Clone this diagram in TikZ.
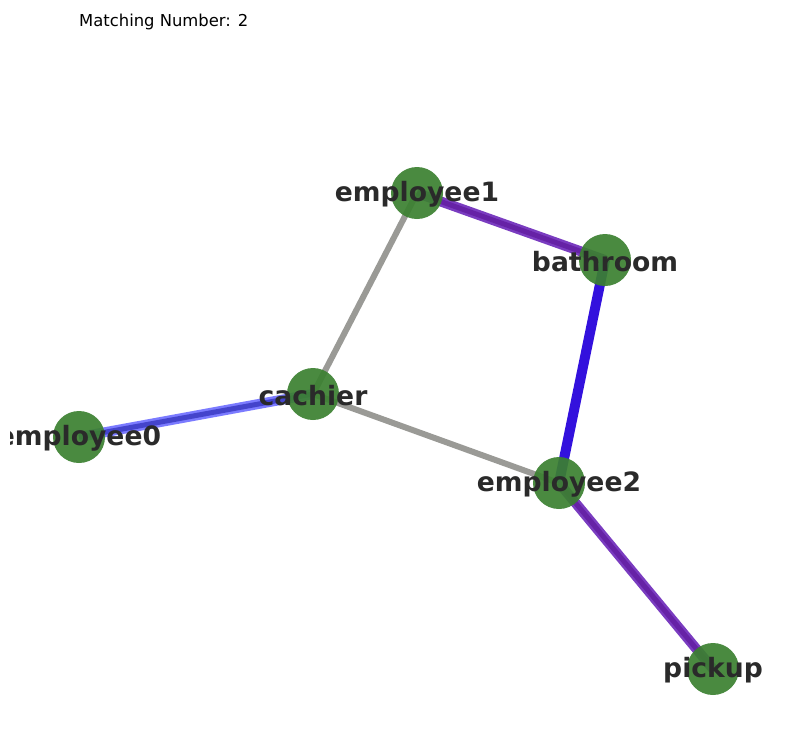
\documentclass[tikz,border=0pt]{standalone}
\usepackage{fontspec}
\setmainfont{DejaVu Sans}
\usetikzlibrary{backgrounds}
\definecolor{nodegreen}{HTML}{3B8030}
\definecolor{labelgrey}{HTML}{2A2A2A}
\definecolor{edgegrey}{HTML}{9A9A96}
\definecolor{lightblue}{HTML}{7B7BFF}
\definecolor{darkblue}{HTML}{4444CC}
\definecolor{purpleout}{HTML}{7A3CC0}
\definecolor{purplein}{HTML}{6622A6}
\definecolor{deepblue}{HTML}{3311DD}
\begin{document}
\begin{tikzpicture}[x=1pt,y=-1pt,
	every node/.style={circle,inner sep=0pt,minimum size=52pt,fill=nodegreen,fill opacity=0.92,text opacity=1,text=labelgrey,font=\fontsize{26.6}{32}\selectfont\bfseries},
	plain/.style={edgegrey,line width=6pt},
	matchpurple/.style={purpleout,line width=10pt},
	matchcore/.style={purplein,line width=5pt},
	matchblue/.style={deepblue,line width=10pt},
	tag/.style={fill=none,minimum size=0pt,yshift=-1.5pt}]
	\useasboundingbox (0,0) rectangle (792,731);
	\node[fill=none,circle=false,rectangle,minimum size=0pt,anchor=base west,font=\fontsize{16.4}{20}\selectfont,text=black] (title) at (79,26) {Matching Number: 2};

	\begin{scope}
	\clip (10,40) rectangle (782,731);
	\node at (417,193) (e1) {};
	\node at (605,260) (bath) {};
	\node at (313,394) (cash) {};
	\node at (79,437) (e0) {};
	\node at (559,483) (e2) {};
	\node at (713,669) (pick) {};

	\begin{scope}[on background layer]
	\draw[plain]		(e1.center) -- (cash.center);
	\draw[plain]		(cash.center) -- (e2.center);
	\draw[lightblue,line width=10pt]	(e0.center) -- (cash.center);
	\draw[darkblue,line width=5pt]	(e0.center) -- (cash.center);
	\draw[matchpurple]	(e1.center) -- (bath.center);
	\draw[matchcore]	(e1.center) -- (bath.center);
	\draw[matchblue]	(bath.center) -- (e2.center);
	\draw[matchpurple]	(e2.center) -- (pick.center);
	\draw[matchcore]	(e2.center) -- (pick.center);
	\end{scope}

	\node[tag] (e1txt) at (e1) {employee1};
	\node[tag] (bathtxt) at (bath) {bathroom};
	\node[tag] (cashtxt) at (cash) {cachier};
	\node[tag] (e0txt) at (e0) {employee0};
	\node[tag] (e2txt) at (e2) {employee2};
	\node[tag] (picktxt) at (pick) {pickup};
	\end{scope}
\end{tikzpicture}
\end{document}
